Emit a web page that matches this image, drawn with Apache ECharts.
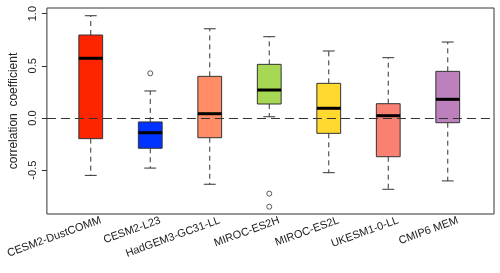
<!DOCTYPE html>
<html>
<head>
<meta charset="utf-8">
<script src="https://cdn.jsdelivr.net/npm/echarts@6/dist/echarts.min.js"></script>
<style>html,body{margin:0;padding:0;background:#fff;}#c{width:500px;height:273px;}</style>
</head>
<body>
<div id="c"></div>
<script>
const categories = ['CESM2-DustCOMM','CESM2-L23','HadGEM3-GC31-LL','MIROC-ES2H','MIROC-ES2L','UKESM1-0-LL','CMIP6 MEM'];
const whiskerLow  = [-0.550, -0.480, -0.635, 0.012, -0.524, -0.683, -0.603];
const quart1      = [-0.198, -0.290, -0.189, 0.134, -0.147, -0.371, -0.045];
const medians     = [ 0.572, -0.141,  0.041, 0.268,  0.093,  0.022,  0.179];
const quart3      = [ 0.795, -0.038,  0.399, 0.514,  0.332,  0.137,  0.447];
const whiskerHigh = [ 0.980,  0.259,  0.855, 0.779,  0.642,  0.578,  0.728];
const outlierCat  = [1, 3, 3];
const outlierVal  = [0.428, -0.725, -0.850];
const boxColors   = ['#FF2400','#0033FF','#FF8C64','#A6D854','#FFD92F','#FA8072','#BC80BD'];
const yTicks      = [-0.5, 0.0, 0.5, 1.0];

const yMin = -0.92, yMax = 1.054;
const boxData = categories.map((c, i) => [i, whiskerLow[i], quart1[i], medians[i], quart3[i], whiskerHigh[i]]);
const outData = outlierCat.map((c, i) => [c, outlierVal[i]]);

const chart = echarts.init(document.getElementById('c'), null, {renderer: 'canvas'});
const font = 'Liberation Sans, Arial, sans-serif';

chart.setOption({
  animation: false,
  grid: [
    {left: 44, right: 6, top: 8, bottom: 59, show: true, borderColor: '#333', borderWidth: 1, backgroundColor: 'transparent'},
    {left: 61, right: 22.5, top: 8, bottom: 59},
    {left: 71, right: 12.5, top: 8, bottom: 59}
  ],
  xAxis: [
    {gridIndex: 0, type: 'value', min: 0, max: 1, show: false},
    {gridIndex: 1, type: 'category', data: categories, boundaryGap: true,
     axisLine: {show: false}, axisTick: {show: false}, axisLabel: {show: false}},
    {gridIndex: 2, type: 'category', data: categories, boundaryGap: true,
     axisLine: {show: false}, axisTick: {show: false},
     axisLabel: {rotate: 20, fontSize: 11, fontFamily: font, color: '#222', margin: 6, interval: 0}}
  ],
  yAxis: [
    {gridIndex: 0, type: 'value', min: yMin, max: yMax,
     name: 'correlation  coefficient', nameLocation: 'middle', nameRotate: 90, nameGap: 24,
     nameTextStyle: {fontSize: 12, fontFamily: font, color: '#222'},
     axisLine: {show: false}, splitLine: {show: false},
     axisTick: {show: true, length: 5, lineStyle: {color: '#333'}, customValues: yTicks},
     axisLabel: {rotate: 90, fontSize: 11, fontFamily: font, color: '#222', margin: 8,
       customValues: yTicks, formatter: v => v.toFixed(1)}},
    {gridIndex: 1, type: 'value', min: yMin, max: yMax, show: false},
    {gridIndex: 2, type: 'value', min: yMin, max: yMax, show: false}
  ],
  series: [
    {type: 'line', xAxisIndex: 0, yAxisIndex: 0, data: [], silent: true,
     markLine: {symbol: 'none', silent: true, label: {show: false},
       lineStyle: {color: '#333', type: [9, 5], width: 1.2},
       data: [{yAxis: 0}]}},
    {type: 'custom', xAxisIndex: 1, yAxisIndex: 1, data: boxData,
     renderItem: function (params, api) {
       const i = api.value(0);
       const bw = api.size([1, 0])[0] * 0.4;
       const cap = bw * 0.5;
       const pLow = api.coord([i, api.value(1)]);
       const pQ1 = api.coord([i, api.value(2)]);
       const pMed = api.coord([i, api.value(3)]);
       const pQ3 = api.coord([i, api.value(4)]);
       const pHigh = api.coord([i, api.value(5)]);
       const x = pMed[0];
       const dash = {stroke: '#333', lineWidth: 1, lineDash: [5, 4]};
       const solid = {stroke: '#333', lineWidth: 1};
       return {type: 'group', children: [
         {type: 'line', shape: {x1: x, y1: pQ3[1], x2: x, y2: pHigh[1]}, style: dash},
         {type: 'line', shape: {x1: x, y1: pQ1[1], x2: x, y2: pLow[1]}, style: dash},
         {type: 'line', shape: {x1: x - cap / 2, y1: pHigh[1], x2: x + cap / 2, y2: pHigh[1]}, style: solid},
         {type: 'line', shape: {x1: x - cap / 2, y1: pLow[1], x2: x + cap / 2, y2: pLow[1]}, style: solid},
         {type: 'rect', shape: {x: x - bw / 2, y: pQ3[1], width: bw, height: pQ1[1] - pQ3[1]},
          style: {fill: boxColors[params.dataIndex], stroke: '#333', lineWidth: 1}},
         {type: 'line', shape: {x1: x - bw / 2, y1: pMed[1], x2: x + bw / 2, y2: pMed[1]},
          style: {stroke: '#000', lineWidth: 3}}
       ]};
     }},
    {type: 'scatter', xAxisIndex: 1, yAxisIndex: 1, data: outData, symbol: 'circle', symbolSize: 5,
     itemStyle: {color: '#fff', borderColor: '#333', borderWidth: 1}}
  ]
});
</script>
</body>
</html>
